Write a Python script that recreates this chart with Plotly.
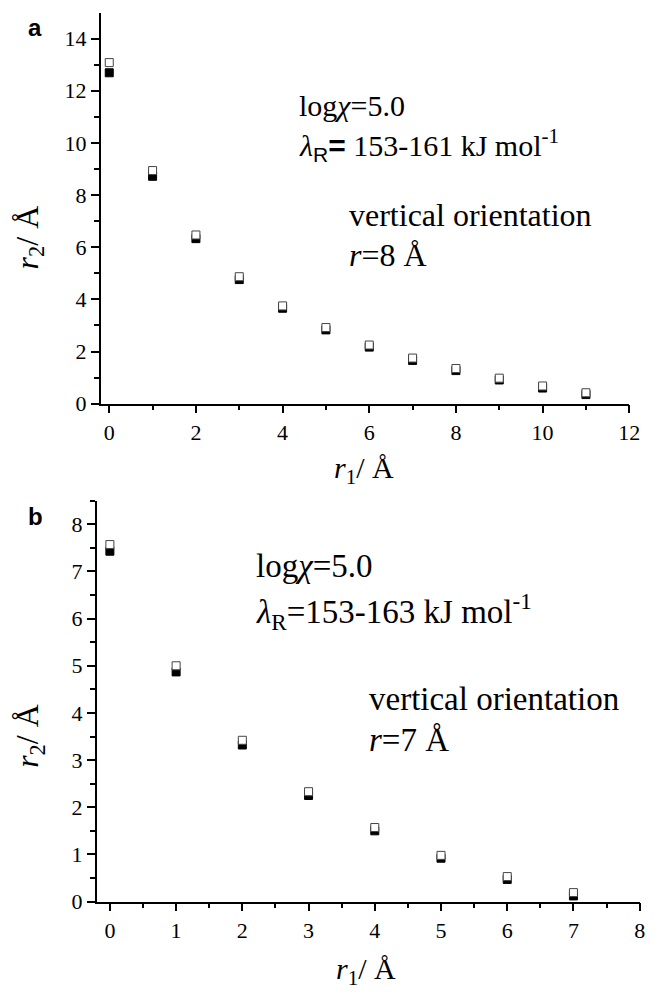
import plotly.graph_objects as go

# Panel a data
a_r1 = [0, 1, 2, 3, 4, 5, 6, 7, 8, 9, 10, 11]
a_open = [13.08, 8.94, 6.47, 4.87, 3.75, 2.92, 2.25, 1.75, 1.35, 0.98, 0.68, 0.42]
a_filled = [12.69, 8.72, 6.33, 4.76, 3.66, 2.83, 2.17, 1.66, 1.27, 0.91, 0.60, 0.35]

# Panel b data
b_r1 = [0, 1, 2, 3, 4, 5, 6, 7]
b_open = [7.57, 5.00, 3.42, 2.33, 1.57, 0.98, 0.53, 0.19]
b_filled = [7.43, 4.87, 3.32, 2.25, 1.50, 0.92, 0.47, 0.12]

W, H = 655, 1004
SERIF = "Liberation Serif, serif"
SANS = "Liberation Sans, sans-serif"

fig = go.Figure()

def add_pair(x, yo, yf, xa, ya):
    fig.add_trace(go.Scatter(x=x, y=yf, mode="markers", xaxis=xa, yaxis=ya,
                             marker=dict(symbol="square", size=8, color="black",
                                         line=dict(color="black", width=1)),
                             showlegend=False))
    fig.add_trace(go.Scatter(x=x, y=yo, mode="markers", xaxis=xa, yaxis=ya,
                             marker=dict(symbol="square", size=8, color="white",
                                         line=dict(color="#444444", width=1)),
                             showlegend=False))

add_pair(a_r1, a_open, a_filled, "x", "y")
add_pair(b_r1, b_open, b_filled, "x2", "y2")

def px(x):
    return x / W

def py(y):
    return 1 - y / H

minor_common = dict(ticks="outside", ticklen=5, tickwidth=1.5, tickcolor="black")
axis_common = dict(showline=True, linecolor="black", linewidth=1.5, mirror=False,
                   ticks="outside", ticklen=8, tickwidth=1.5, tickcolor="black",
                   showgrid=False, zeroline=False,
                   tickfont=dict(family=SERIF, size=22, color="black"))

fig.update_layout(
    width=W, height=H,
    margin=dict(l=0, r=0, t=0, b=0),
    paper_bgcolor="white", plot_bgcolor="white",
    showlegend=False,
    font=dict(family=SERIF, color="black"),
    xaxis=dict(domain=[px(102.3), px(640)], range=[-0.2, 12], anchor="y",
               tickvals=[0, 2, 4, 6, 8, 10, 12],
               minor=dict(tickvals=[1, 3, 5, 7, 9, 11], **minor_common),
               **axis_common),
    yaxis=dict(domain=[py(409), py(12.7)], range=[0, 15], anchor="x",
               tickvals=[0, 2, 4, 6, 8, 10, 12, 14],
               minor=dict(tickvals=[1, 3, 5, 7, 9, 11, 13], **minor_common),
               **axis_common),
    xaxis2=dict(domain=[px(98.3), px(650.6)], range=[-0.2, 8], anchor="y2",
                tickvals=[0, 1, 2, 3, 4, 5, 6, 7, 8],
                minor=dict(tickvals=[0.5, 1.5, 2.5, 3.5, 4.5, 5.5, 6.5, 7.5], **minor_common),
                **axis_common),
    yaxis2=dict(domain=[py(913.4), py(507.3)], range=[0, 8.5], anchor="x2",
                tickvals=[0, 1, 2, 3, 4, 5, 6, 7, 8],
                minor=dict(tickvals=[0.5, 1.5, 2.5, 3.5, 4.5, 5.5, 6.5, 7.5, 8.5], **minor_common),
                **axis_common),
)

def txt(x, y, text, size=26, xanchor="left", family=SERIF, angle=0, yanchor="middle"):
    fig.add_annotation(x=px(x), y=py(y), xref="paper", yref="paper", text=text,
                       showarrow=False, xanchor=xanchor, yanchor=yanchor, textangle=angle,
                       font=dict(family=family, size=size, color="black"))

# panel labels
txt(26, 28, "<b>a</b>", size=24, family=SANS)
txt(26, 523, "<b>b</b>", size=24, family=SANS)

# panel a annotations
txt(302, 107, "log<i>χ</i>=5.0", size=30)
txt(302, 147, "<i>λ</i><sub><span style='font-family:Liberation Sans'>R</span></sub>"
              "<span style='font-family:Liberation Sans;font-weight:bold'>=</span> 153-161 kJ mol<sup>-1</sup>",
    size=30)
txt(353, 218, "vertical orientation", size=32)
txt(353, 258, "<i>r</i>=8 Å", size=32)

# panel b annotations
txt(258, 573, "log<i>χ</i>=5.0", size=33)
txt(258, 620, "<i>λ</i><sub>R</sub>=153-163 kJ mol<sup>-1</sup>", size=33)
txt(373, 708, "vertical orientation", size=33)
txt(373, 750, "<i>r</i>=7 Å", size=33)

# axis titles
txt(30, 240, "<i>r</i><sub>2</sub>/ Å", size=32, xanchor="center", angle=-90)
txt(370, 476, "<i>r</i><sub>1</sub>/ Å", size=30, xanchor="center")
txt(30, 745, "<i>r</i><sub>2</sub>/ Å", size=32, xanchor="center", angle=-90)
txt(372, 984, "<i>r</i><sub>1</sub>/ Å", size=30, xanchor="center")

fig.write_html("out.html")
